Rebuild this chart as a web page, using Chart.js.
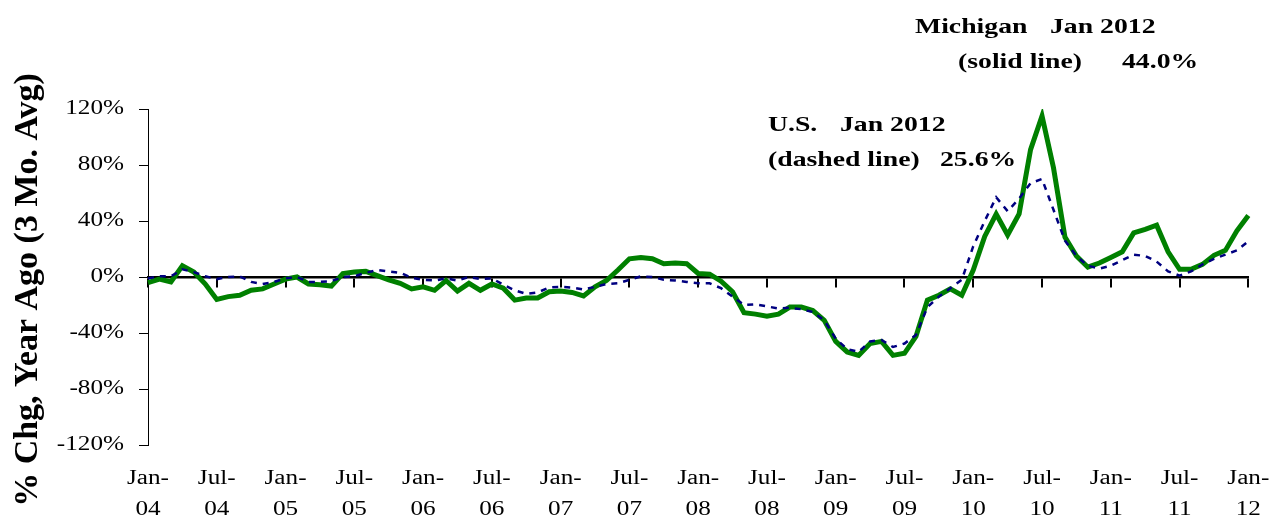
<!DOCTYPE html>
<html>
<head>
<meta charset="utf-8">
<script src="https://cdn.jsdelivr.net/npm/chart.js@4.4.0/dist/chart.umd.min.js"></script>
<style>
  html, body { margin: 0; padding: 0; background: #fff; }
  #wrap { width: 1283px; height: 529px; }
</style>
</head>
<body>
<div id="wrap"><canvas id="chart" width="1283" height="529"></canvas></div>
<script>
// monthly categories, Jan-04 .. Jan-12
const monthNames = ['Jan', 'Feb', 'Mar', 'Apr', 'May', 'Jun', 'Jul', 'Aug', 'Sep', 'Oct', 'Nov', 'Dec'];
const years = ['04', '05', '06', '07', '08', '09', '10', '11', '12'];
const months = [];
for (const y of years) for (const m of monthNames) if (months.length < 97) months.push(m + '-' + y);

// % chg, year ago (3 mo. avg)
const michigan = [
  -4, -1.5, -3.5, 8, 3.5, -5, -16, -14, -13, -9.5, -8.5, -5,
  -1.5, 0, -5, -5.5, -6.5, 2.5, 3.5, 4, 1, -2, -4.5, -8.5,
  -7, -9.5, -2.5, -10, -4.5, -9.5, -5, -8, -16.5, -15, -15, -10.5,
  -10, -11, -13.5, -7, -2.5, 5, 13, 14, 13, 9.5, 10, 9.5,
  2.5, 2, -3, -10.5, -25.5, -26.5, -28, -26.5, -21.5, -21.5, -24, -31,
  -46, -53.5, -56, -47.5, -46, -56, -54.5, -42.5, -16.5, -13, -8.5, -13,
  5, 29, 45, 30, 45, 91, 115, 78, 28.5, 15, 7, 10,
  14, 18, 31.5, 34, 37, 18, 5.5, 5.5, 9, 15.5, 19, 33,
  44
];
const us = [
  -1, 0.5, 0.5, 5.5, 3.5, 0.5, -1.5, 0, 0.5, -3.5, -5, -3.5,
  -1, 0, -3.5, -3.5, -3, 0, 0.5, 3, 5, 4, 3, -0.5,
  -2, -2.5, -1, -2.5, 0, -1.5, -1, -5.5, -9.5, -12, -11, -7.5,
  -7, -7.5, -9, -7, -5, -4.5, -2, 0.5, 0, -2, -2.5, -3.5,
  -4.5, -4.5, -8, -14, -20, -19.5, -21, -22.5, -22, -23, -25, -31,
  -44, -51.5, -53.5, -46, -45, -50, -47.5, -41.5, -21.5, -14, -8, -2,
  22, 40, 57, 47, 56, 67, 70, 48, 26, 15, 8, 6,
  8, 12, 16, 15, 11, 4, 1, 4, 9, 13, 16, 19,
  25.6
];

const yTicks = { min: -120, max: 120, step: 40 };
const yTitle = '% Chg, Year Ago (3 Mo. Avg)';
const notes = [
  { text: 'Michigan', x: 915, y: 27 },
  { text: 'Jan 2012', x: 1050, y: 27 },
  { text: '(solid line)', x: 958, y: 62 },
  { text: '44.0%', x: 1122, y: 62 },
  { text: 'U.S.', x: 768, y: 125 },
  { text: 'Jan 2012', x: 840, y: 125 },
  { text: '(dashed line)', x: 768, y: 160 },
  { text: '25.6%', x: 940, y: 160 }
];

// the reference text is drawn wide, so flat text gets stretched sideways
const TEXT_STRETCH = 1.26;
const stretchText = {
  id: 'stretchText',
  beforeInit(chart) {
    const ctx = chart.ctx;
    const fill = ctx.fillText.bind(ctx);
    ctx.fillText = function (text, x, y) {
      const m = ctx.getTransform();
      if (m.b !== 0 || m.c !== 0) return fill(text, x, y);
      ctx.save();
      ctx.translate(x, y);
      ctx.scale(TEXT_STRETCH, 1);
      fill(text, 0, 0);
      ctx.restore();
    };
  }
};

const notesPlugin = {
  id: 'notes',
  afterDraw(chart) {
    const ctx = chart.ctx;
    ctx.save();
    ctx.fillStyle = '#000';
    ctx.textBaseline = 'middle';
    ctx.textAlign = 'left';
    ctx.font = 'bold 22px "Liberation Serif"';
    notes.forEach(n => ctx.fillText(n.text, n.x, n.y));
    ctx.font = 'bold 34px "Liberation Serif"';
    ctx.translate(28, 290);
    ctx.rotate(-Math.PI / 2);
    ctx.textAlign = 'center';
    ctx.fillText(yTitle, 0, 0);
    ctx.restore();
  }
};

Chart.defaults.font.family = '"Liberation Serif", "Times New Roman", serif';
Chart.defaults.color = '#000';

new Chart(document.getElementById('chart'), {
  type: 'line',
  data: {
    labels: months,
    datasets: [
      {
        label: 'U.S.',
        data: us,
        borderColor: '#000080',
        borderWidth: 2.5,
        borderDash: [6, 6],
        pointRadius: 0,
        tension: 0,
        order: 1
      },
      {
        label: 'Michigan',
        data: michigan,
        borderColor: '#008000',
        borderWidth: 5,
        pointRadius: 0,
        tension: 0,
        order: 2
      }
    ]
  },
  options: {
    responsive: false,
    animation: false,
    layout: { padding: { top: 109, right: 26, bottom: 0, left: 0 } },
    plugins: { legend: { display: false }, tooltip: { enabled: false } },
    scales: {
      x: {
        type: 'category',
        grid: { display: false, drawTicks: false },
        border: { display: false },
        ticks: {
          autoSkip: false,
          maxRotation: 0,
          padding: 18,
          font: { size: 20, lineHeight: 1.55 },
          callback: (v, i) => {
            if (i % 6 !== 0) return null;
            const [m, y] = months[i].split('-');
            return [m + '-', y];
          }
        },
        afterFit: s => { s.height = 84; }
      },
      x0: {
        type: 'category',
        position: { y: 0 },
        grid: {
          drawOnChartArea: false,
          drawTicks: true,
          tickLength: 9,
          color: '#000',
          lineWidth: c => (c.index % 6 === 0 ? 2 : 0)
        },
        border: { display: true, color: '#000', width: 2.5 },
        ticks: { display: false }
      },
      y: {
        min: yTicks.min,
        max: yTicks.max,
        grid: { drawOnChartArea: false, drawTicks: true, tickLength: 9, color: '#000', lineWidth: 1 },
        border: { display: true, color: '#000', width: 1 },
        ticks: {
          stepSize: yTicks.step,
          padding: 15,
          font: { size: 20 },
          callback: v => v + '%'
        },
        afterFit: s => { s.width = 148; }
      }
    }
  },
  plugins: [stretchText, notesPlugin]
});
</script>
</body>
</html>
